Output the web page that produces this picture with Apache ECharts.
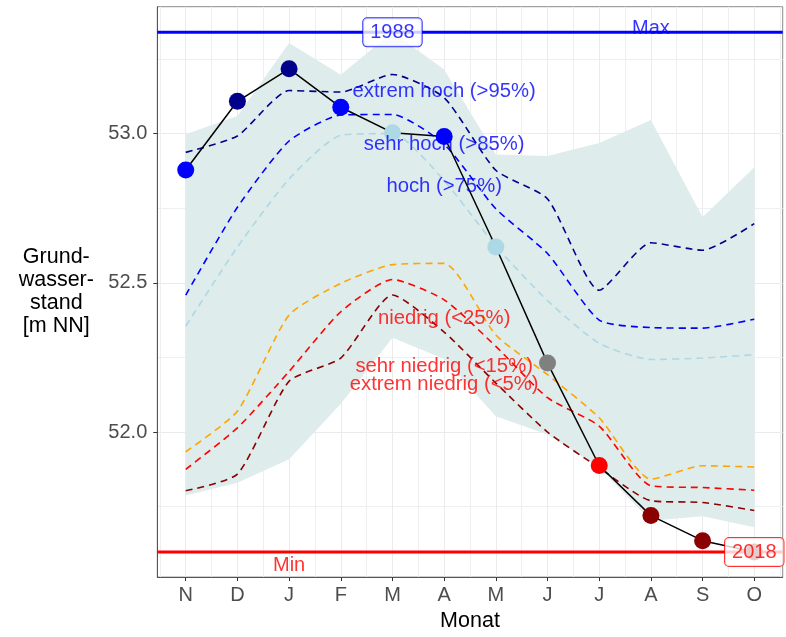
<!DOCTYPE html>
<html>
<head>
<meta charset="utf-8">
<script src="https://cdn.jsdelivr.net/npm/echarts@6/dist/echarts.min.js"></script>
<style>html,body{margin:0;padding:0;background:#fff}#c{width:786px;height:637px}</style>
</head>
<body>
<div id="c"></div>
<script>
// ---- data ----
const months = ['N','D','J','F','M','A','M','J','J','A','S','O'];
const current = [52.878, 53.108, 53.217, 53.088, 53.003, 52.990, 52.620, 52.231, 51.888, 51.720, 51.636, 51.598];
const pointClass = ['sehr hoch','extrem hoch','extrem hoch','sehr hoch','hoch','sehr hoch','hoch','normal','sehr niedrig','extrem niedrig','extrem niedrig','extrem niedrig'];
const rangeMin = [51.787, 51.830, 51.909, 52.095, 52.316, 52.245, 52.053, 51.992, 51.881, 51.703, 51.718, 51.681];
const rangeMax = [52.998, 53.059, 53.303, 53.197, 53.339, 53.215, 52.930, 52.925, 52.968, 53.045, 52.720, 52.887];
const q95 = [52.937, 52.992, 53.144, 53.139, 53.198, 53.120, 52.877, 52.781, 52.475, 52.634, 52.609, 52.698];
const q85 = [52.459, 52.753, 52.975, 53.062, 53.064, 52.964, 52.748, 52.598, 52.375, 52.350, 52.348, 52.378];
const q75 = [52.355, 52.620, 52.848, 52.994, 53.000, 52.842, 52.623, 52.440, 52.297, 52.243, 52.248, 52.259];
const q25 = [51.934, 52.070, 52.392, 52.498, 52.561, 52.565, 52.325, 52.192, 52.048, 51.842, 51.887, 51.883];
const q15 = [51.875, 52.014, 52.203, 52.403, 52.511, 52.443, 52.287, 52.115, 52.020, 51.820, 51.814, 51.805];
const q05 = [51.803, 51.859, 52.170, 52.248, 52.459, 52.335, 52.164, 52.000, 51.880, 51.770, 51.764, 51.737];
const maxVal = 53.339, maxYear = '1988', maxMonth = 4;
const minVal = 51.598, minYear = '2018', minMonth = 11;
const classTexts = ['extrem hoch (>95%)','sehr hoch (>85%)','hoch (>75%)','niedrig (<25%)','sehr niedrig (<15%)','extrem niedrig (<5%)'];
const classTextY = [53.142, 52.964, 52.822, 52.381, 52.219, 52.161];
const classTextMonth = 5;
const yTicks = [52.0, 52.5, 53.0];
const yMinor = [51.75, 52.25, 52.75, 53.25];
const xTicks = [0,1,2,3,4,5,6,7,8,9,10,11];
const xMinor = [-0.5,0.5,1.5,2.5,3.5,4.5,5.5,6.5,7.5,8.5,9.5,10.5,11.5];

// ---- styles ----
const FONT = 'Liberation Sans, Arial, Helvetica, sans-serif';
const BLUE = '#0000FF', RED = '#FF0000';
const classColor = {
  'extrem hoch': '#00008B', 'sehr hoch': '#0000FF', 'hoch': '#ADD8E6',
  'normal': '#808080', 'niedrig': '#FFA500', 'sehr niedrig': '#FF0000', 'extrem niedrig': '#8B0000'
};
const quantLines = [
  {d: q95, c: '#00008B'}, {d: q85, c: '#0000FF'}, {d: q75, c: '#ADD8E6'},
  {d: q25, c: '#FFA500'}, {d: q15, c: '#FF0000'}, {d: q05, c: '#8B0000'}
];
const X_MIN = -0.55, X_MAX = 11.55, Y_MIN = 51.514, Y_MAX = 53.425;

const pairs = arr => arr.map((v, i) => [i, v]);

const series = [];
// historic range ribbon, polygon built from the axis scales
series.push({
  type: 'custom', silent: true, z: 1,
  data: rangeMin.map((v, i) => [i, v, rangeMax[i]]),
  renderItem: function (params, api) {
    if (params.dataIndex !== 0) return null;
    const top = rangeMax.map((v, i) => api.coord([i, v]));
    const bot = rangeMin.map((v, i) => api.coord([i, v])).reverse();
    return {type: 'polygon', shape: {points: top.concat(bot)}, style: {fill: '#DEECEB'}};
  }
});
quantLines.forEach(q => series.push({
  type: 'line', data: pairs(q.d), symbol: 'none', silent: true, smooth: 0.2,
  lineStyle: {color: q.c, width: 1.6, type: [7, 5]}, z: 2
}));
series.push({
  type: 'line', data: [[X_MIN, maxVal], [X_MAX, maxVal]], symbol: 'none', silent: true,
  lineStyle: {color: BLUE, width: 3}, z: 3
});
series.push({
  type: 'line', data: [[X_MIN, minVal], [X_MAX, minVal]], symbol: 'none', silent: true,
  lineStyle: {color: RED, width: 3}, z: 3
});
series.push({
  type: 'line', data: pairs(current), symbol: 'none', silent: true,
  lineStyle: {color: '#000', width: 1.5}, z: 4
});
series.push({
  type: 'scatter', symbolSize: 17, silent: true, z: 5,
  data: current.map((v, i) => ({value: [i, v], itemStyle: {color: classColor[pointClass[i]], opacity: 1}}))
});
series.push({
  type: 'scatter', symbolSize: 1, silent: true, z: 6,
  itemStyle: {color: 'rgba(0,0,0,0)'},
  data: classTexts.map((t, i) => ({
    value: [classTextMonth, classTextY[i]],
    label: {show: true, position: 'inside', formatter: t, color: i < 3 ? BLUE : RED,
            fontSize: 20.3, fontFamily: FONT}
  })).concat([
    {value: [9, maxVal], label: {show: true, position: 'top', distance: 0, offset: [0, 7], formatter: 'Max',
      color: BLUE, fontSize: 20, fontFamily: FONT}},
    {value: [2, minVal], label: {show: true, position: 'bottom', distance: 0, offset: [0, 3], formatter: 'Min',
      color: RED, fontSize: 20, fontFamily: FONT}}
  ])
});
series.push({
  type: 'scatter', symbolSize: 1, silent: true, z: 7,
  itemStyle: {color: 'rgba(0,0,0,0)'},
  data: [
    {value: [maxMonth, maxVal], label: {show: true, position: 'inside', formatter: maxYear, color: BLUE,
      fontSize: 20, fontFamily: FONT, backgroundColor: '#fff', borderColor: BLUE, borderWidth: 1,
      borderRadius: 4, padding: [4, 7, 4, 7]}},
    {value: [minMonth, minVal], label: {show: true, position: 'inside', formatter: minYear, color: RED,
      fontSize: 20, fontFamily: FONT, backgroundColor: '#fff', borderColor: RED, borderWidth: 1,
      borderRadius: 4, padding: [4, 7, 4, 7]}}
  ]
});

const option = {
  animation: false,
  backgroundColor: '#fff',
  grid: {left: 157.3, right: 3.3, top: 6.7, bottom: 57, show: true, borderColor: '#8a8a8a', borderWidth: 1, containLabel: false},
  xAxis: [{
    type: 'value', min: X_MIN, max: X_MAX,
    axisLine: {show: true, onZero: false, lineStyle: {color: '#555', width: 1}},
    axisTick: {show: true, customValues: xTicks, length: 4, lineStyle: {color: '#333'}},
    axisLabel: {customValues: xTicks, formatter: v => months[Math.round(v)], color: '#4D4D4D', fontSize: 20, fontFamily: FONT, margin: 8},
    splitLine: {show: true, lineStyle: {color: '#EBEBEB', width: 1}},
    name: 'Monat', nameLocation: 'middle', nameGap: 32,
    nameTextStyle: {color: '#000', fontSize: 21.5, fontFamily: FONT}
  }, {
    type: 'value', min: X_MIN, max: X_MAX, position: 'bottom',
    axisLine: {show: false}, axisTick: {show: false, customValues: xMinor},
    axisLabel: {show: false, customValues: xMinor},
    splitLine: {show: true, lineStyle: {color: '#EFEFEF', width: 1}}
  }],
  yAxis: [{
    type: 'value', min: Y_MIN, max: Y_MAX,
    axisLine: {show: true, onZero: false, lineStyle: {color: '#555', width: 1}},
    axisTick: {show: true, customValues: yTicks, length: 4, lineStyle: {color: '#333'}},
    axisLabel: {customValues: yTicks, formatter: v => v.toFixed(1), color: '#4D4D4D', fontSize: 20, fontFamily: FONT, margin: 10},
    splitLine: {show: true, lineStyle: {color: '#EBEBEB', width: 1}},
    name: 'Grund-\nwasser-\nstand\n[m NN]', nameLocation: 'middle', nameRotate: 0, nameGap: 101,
    nameTextStyle: {color: '#000', fontSize: 21.5, fontFamily: FONT, align: 'center', verticalAlign: 'middle', lineHeight: 23}
  }, {
    type: 'value', min: Y_MIN, max: Y_MAX, position: 'left',
    axisLine: {show: false}, axisTick: {show: false, customValues: yMinor},
    axisLabel: {show: false, customValues: yMinor},
    splitLine: {show: true, lineStyle: {color: '#EFEFEF', width: 1}}
  }],
  series: series
};
const chart = echarts.init(document.getElementById('c'), null, {renderer: 'canvas'});
chart.setOption(option);
</script>
</body>
</html>
